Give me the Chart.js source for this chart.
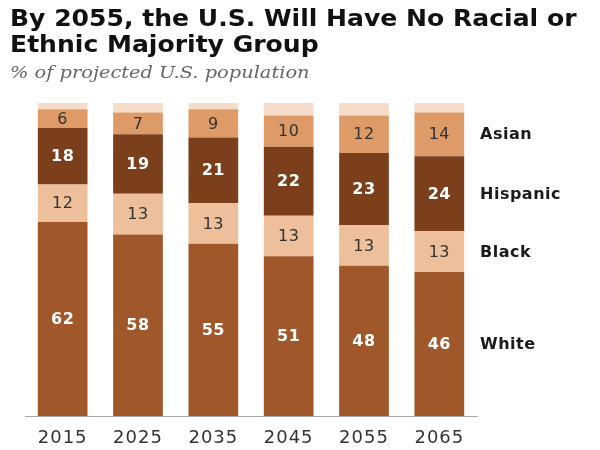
<!DOCTYPE html>
<html>
<head>
<meta charset="utf-8">
<script src="https://cdn.jsdelivr.net/npm/chart.js@4"></script>
<style>
  html, body { margin: 0; padding: 0; background: #fff; }
  #wrap { position: relative; width: 600px; height: 450px; overflow: hidden; }
  #title { position: absolute; left: 10px; top: 5px; font-family: "DejaVu Sans", sans-serif; font-weight: bold; font-size: 23px; line-height: 26px; color: #111; white-space: nowrap; transform: scaleX(1.09); transform-origin: 0 0; }
  #sub { position: absolute; left: 10px; top: 62px; font-family: "DejaVu Serif", serif; font-style: italic; font-size: 17px; color: #666; white-space: nowrap; transform: scaleX(1.14); transform-origin: 0 0; }
  canvas { position: absolute; left: 0; top: 0; }
</style>
</head>
<body>
<div id="wrap">
  <canvas id="c" width="600" height="450"></canvas>
  <div id="title">By 2055, the U.S. Will Have No Racial or<br>Ethnic Majority Group</div>
  <div id="sub">% of projected U.S. population</div>
</div>
<script>
const years = ["2015", "2025", "2035", "2045", "2055", "2065"];
const white = [62, 58, 55, 51, 48, 46];
const black = [12, 13, 13, 13, 13, 13];
const hispanic = [18, 19, 21, 22, 23, 24];
const asian = [6, 7, 9, 10, 12, 14];
const other = [2, 3, 2, 4, 4, 3];
const groupNames = ["White", "Black", "Hispanic", "Asian", "Other"];

const colors = {
  White: "#A0572A",
  Black: "#EEBF9B",
  Hispanic: "#7B401B",
  Asian: "#DE9A67",
  Other: "#F6DCCB"
};
const labelColors = { White: "#ffffff", Black: "#333333", Hispanic: "#ffffff", Asian: "#333333" };

const series = [white, black, hispanic, asian, other];

const labelPlugin = {
  id: "segLabels",
  beforeDraw(chart) {
    chart.ctx.letterSpacing = "1px";
  },
  afterDatasetsDraw(chart) {
    const ctx = chart.ctx;
    ctx.save();
    ctx.letterSpacing = "0.5px";
    ctx.textAlign = "center";
    ctx.textBaseline = "middle";
    chart.data.datasets.forEach((ds, di) => {
      if (ds.label === "Other") return;
      const meta = chart.getDatasetMeta(di);
      meta.data.forEach((el, i) => {
        const y = (el.y + el.base) / 2;
        const light = labelColors[ds.label] === "#ffffff";
        ctx.fillStyle = labelColors[ds.label];
        ctx.font = (light ? "bold " : "") + "16px 'DejaVu Sans', sans-serif";
        ctx.fillText(String(ds.data[i]), el.x, y + 1);
      });
      const last = meta.data[meta.data.length - 1];
      ctx.textAlign = "left";
      ctx.fillStyle = "#1a1a1a";
      ctx.font = "bold 16px 'DejaVu Sans', sans-serif";
      ctx.fillText(ds.label, chart.chartArea.right + 3, (last.y + last.base) / 2 + 1);
      ctx.textAlign = "center";
    });
    ctx.restore();
  }
};

new Chart(document.getElementById("c"), {
  type: "bar",
  data: {
    labels: years,
    datasets: series.map((d, i) => ({
      label: groupNames[i],
      data: d,
      backgroundColor: colors[groupNames[i]],
      borderWidth: 0,
      barPercentage: 0.66,
      categoryPercentage: 1.0
    }))
  },
  options: {
    responsive: false,
    animation: false,
    layout: { padding: { top: 103, left: 25, right: 123, bottom: 0 } },
    plugins: { legend: { display: false }, tooltip: { enabled: false } },
    scales: {
      x: {
        stacked: true,
        grid: { display: false, drawTicks: false },
        border: { display: true, color: "#aaaaaa", width: 1 },
        ticks: { color: "#333", font: { family: "DejaVu Sans", size: 18 }, padding: 12 },
        afterFit(scale) { scale.height = 34; }
      },
      y: {
        stacked: true,
        display: false,
        min: 0,
        max: 100
      }
    }
  },
  plugins: [labelPlugin]
});
</script>
</body>
</html>
